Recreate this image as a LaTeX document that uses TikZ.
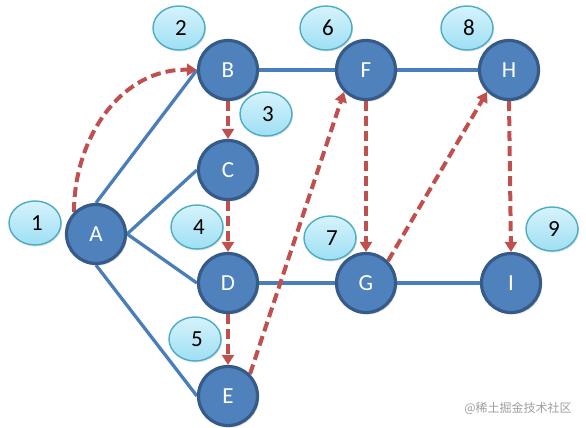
\documentclass[tikz,border=0pt]{standalone}
\usepackage{fontspec}
\setmainfont{Carlito}
\newfontfamily\cjk{Noto Sans CJK SC}
\usetikzlibrary{arrows.meta,backgrounds,shadows,shapes.geometric}
\definecolor{nodefill}{HTML}{4F81BD}
\definecolor{nodeline}{HTML}{365B89}
\definecolor{linkline}{HTML}{4A7EBB}
\definecolor{redline}{HTML}{C0504D}
\definecolor{ellline}{HTML}{4BACC6}
\definecolor{elltop}{HTML}{D6F3FC}
\definecolor{ellbot}{HTML}{9EDFF4}
\newcommand{\numtxt}[1]{\hspace*{4pt}\raisebox{-4pt}{#1}}
\begin{document}
\begin{tikzpicture}[x=1pt,y=-1pt,
  vtx/.style={circle, draw=nodeline, line width=3.2pt, fill=nodefill, minimum size=59pt,
    inner sep=0pt, text=white, font=\fontsize{23}{23}\selectfont,
    drop shadow={opacity=0.3, shadow xshift=1.5pt, shadow yshift=-2pt}},
  num/.style={ellipse, draw=ellline, line width=1.4pt, top color=elltop, bottom color=ellbot,
    minimum width=52pt, minimum height=44pt, inner sep=0pt, font=\fontsize{23}{23}\selectfont,
    drop shadow={opacity=0.25, shadow xshift=1pt, shadow yshift=-1.5pt}},
  link/.style={draw=linkline, line width=3.3pt},
  order/.style={draw=redline, line width=4pt, dash pattern=on 10pt off 5pt,
    -{Triangle[length=10pt,width=12pt]}}]
\useasboundingbox (0,0) rectangle (586,428);
% number ellipses
\node[num] (n1) at (35,223) {\numtxt{1}};
\node[num] (n2) at (179,28) {\numtxt{2}};
\node[num] (n3) at (266,114) {\numtxt{3}};
\node[num] (n4) at (197,227) {\numtxt{4}};
\node[num] (n5) at (195,339) {\numtxt{5}};
\node[num] (n6) at (326,28) {\numtxt{6}};
\node[num] (n7) at (330,238) {\numtxt{7}};
\node[num] (n8) at (467,28) {\numtxt{8}};
\node[num] (n9) at (552,229) {\numtxt{9}};
% vertices
\node[vtx] (A) at (96,234) {A};
\node[vtx] (B) at (228,70) {B};
\node[vtx] (C) at (228,170) {C};
\node[vtx] (D) at (228,283) {D};
\node[vtx] (E) at (228,396) {E};
\node[vtx] (F) at (366,70) {F};
\node[vtx] (H) at (509,70) {H};
\node[vtx] (G) at (366,283) {G};
\node[vtx] (I) at (511,283) {I};
\begin{scope}[on background layer]
  \draw[link] (A.north) -- (B.west);
  \draw[link] (A.east) -- (C.west);
  \draw[link] (A.east) -- (D.west);
  \draw[link] (A.south) -- (E.west);
  \draw[link] (B.east) -- (F.west);
  \draw[link] (F.east) -- (H.west);
  \draw[link] (D.east) -- (G.west);
  \draw[link] (G.east) -- (I.west);
  \draw[order] (A.north west) .. controls +(0,-75) and +(-75,-2) .. (B.west);
  \draw[order] (B.south) -- (C.north);
  \draw[order] (C.south) -- (D.north);
  \draw[order] (D.south) -- (E.north);
  \draw[order] (E.north east) -- (F.south west);
  \draw[order] (F.south) -- (G.north);
  \draw[order] (G.north east) -- (H.south west);
  \draw[order] (H.south) -- (I.north);
\end{scope}
\node[text=black!38, font=\cjk\fontsize{12}{12}\selectfont] (wm) at (518,408) {@稀土掘金技术社区};
\end{tikzpicture}
\end{document}
